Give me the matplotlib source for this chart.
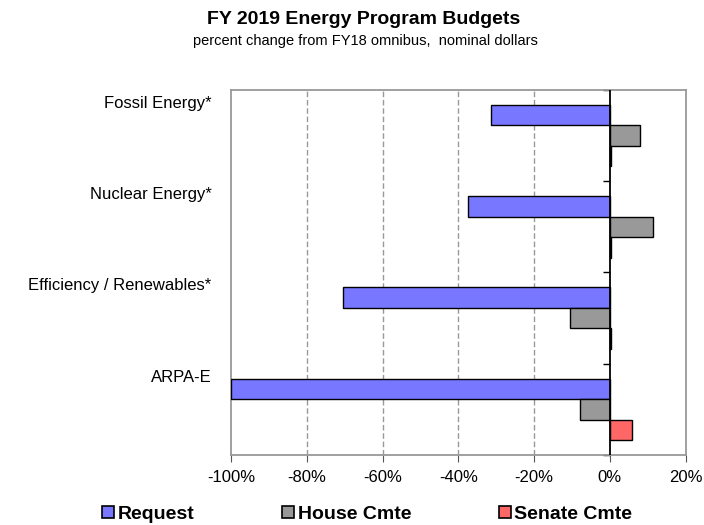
import numpy as np
import matplotlib.pyplot as plt
from matplotlib.lines import Line2D
from matplotlib.ticker import FuncFormatter

plt.rcParams['font.family'] = ['Liberation Sans', 'DejaVu Sans']

# data (percent change from FY18 omnibus)
programs = ["Fossil Energy*", "Nuclear Energy*", "Efficiency / Renewables*", "ARPA-E"]
request = [-31.5, -37.5, -70.5, -100.0]
house = [8.0, 11.5, -10.5, -8.0]
senate = [0.4, 0.4, 0.4, 5.8]
series_names = ["Request", "House Cmte", "Senate Cmte"]
colors = ["#7777FF", "#999999", "#FF6666"]

fig = plt.figure(figsize=(7.04, 5.25), dpi=100)
ax = fig.add_axes([0.328, 0.133, 0.646, 0.696])

y = np.arange(len(programs))
h = 0.225
for k, vals in enumerate([request, house, senate]):
    ax.barh(y + (k - 1) * h, vals, height=h, color=colors[k],
            edgecolor='black', linewidth=1.0, zorder=3)

ax.set_xlim(-100, 20)
ax.set_ylim(len(programs) - 0.5, -0.5)

# category labels sit near top of each group
ax.set_yticks(y - 0.37)
ax.set_yticklabels(programs, fontsize=12)
ax.tick_params(axis='y', length=0, pad=14)

ax.set_xticks(np.arange(-100, 21, 20))
ax.xaxis.set_major_formatter(FuncFormatter(lambda v, p: f"{v:.0f}%"))
ax.tick_params(axis='x', labelsize=12, length=5, color='#555555', pad=6)

for v in [-80, -60, -40, -20]:
    ax.axvline(v, color='#999999', linestyle=(0, (4, 2)), linewidth=1, zorder=1)

for s in ax.spines.values():
    s.set_color('#999999')
    s.set_linewidth(1.3)

# zero axis with group boundary ticks
ax.axvline(0, color='black', linewidth=1.3, zorder=4)
zax = ax.secondary_yaxis(100 / 120)
zax.set_yticks(np.arange(len(programs) + 1) - 0.5)
zax.set_yticklabels([])
zax.tick_params(axis='y', direction='in', length=5, width=1, color='black')
zax.spines['left'].set_visible(False)
zax.spines['right'].set_visible(False)

fig.text(0.517, 0.962, "FY 2019 Energy Program Budgets", ha='center', va='center',
         fontsize=14, fontweight='bold')
fig.text(0.519, 0.922, "percent change from FY18 omnibus,  nominal dollars", ha='center',
         va='center', fontsize=10.5)

handles = [Line2D([], [], marker='s', linestyle='none', markersize=8,
                  markerfacecolor=c, markeredgecolor='black', markeredgewidth=1.2)
           for c in colors]
fig.legend(handles, series_names, loc='center', bbox_to_anchor=(0.519, 0.021), ncol=3,
           frameon=False, handletextpad=0.0, columnspacing=4.3, handlelength=1.0,
           prop={'family': ['Liberation Sans Narrow', 'Liberation Sans'], 'weight': 'bold', 'size': 14})

fig.savefig("out.png", dpi=100)
